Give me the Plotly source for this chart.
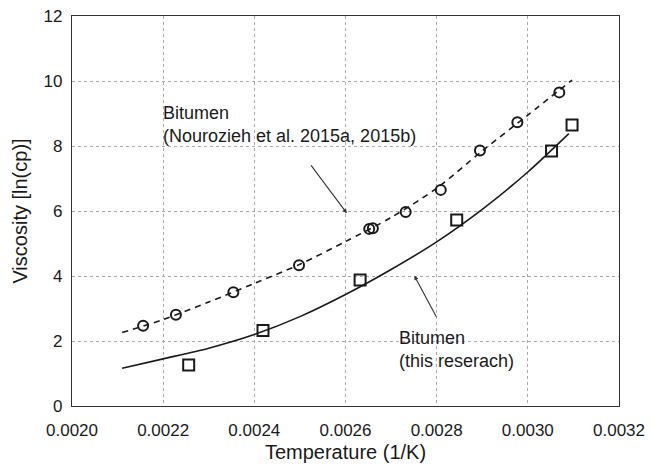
import plotly.graph_objects as go

# Measured data: Nourozieh et al. (circles)
lit_x = [0.002156, 0.002228, 0.002354, 0.002498, 0.002652, 0.002660, 0.002732, 0.002809, 0.002895, 0.002977, 0.003069]
lit_y = [2.47, 2.81, 3.50, 4.33, 5.45, 5.47, 5.97, 6.65, 7.86, 8.73, 9.65]

# Measured data: this research (squares)
res_x = [0.002256, 0.002419, 0.002632, 0.002844, 0.003052, 0.003097]
res_y = [1.26, 2.32, 3.88, 5.72, 7.85, 8.65]

# Model curve for literature data (dashed)
lit_fit_x = [0.00211, 0.0022, 0.0023, 0.0024, 0.0025, 0.0026, 0.0027, 0.0028, 0.0029, 0.0030, 0.003097]
lit_fit_y = [2.26, 2.66, 3.20, 3.77, 4.36, 5.06, 5.80, 6.70, 7.85, 8.95, 10.03]

# Model curve for this research (solid)
res_fit_x = [0.00211, 0.0022, 0.0023, 0.0024, 0.0025, 0.0026, 0.0027, 0.0028, 0.0029, 0.0030, 0.00309]
res_fit_y = [1.16, 1.45, 1.78, 2.20, 2.75, 3.43, 4.20, 5.05, 6.05, 7.20, 8.38]

x_ticks = [0.0020, 0.0022, 0.0024, 0.0026, 0.0028, 0.0030, 0.0032]
x_tick_text = ["0.0020", "0.0022", "0.0024", "0.0026", "0.0028", "0.0030", "0.0032"]
y_ticks = [0, 2, 4, 6, 8, 10, 12]

ink = "#1a1a1a"
font = "Liberation Sans, Arial, sans-serif"

fig = go.Figure()
fig.add_trace(go.Scatter(x=lit_fit_x, y=lit_fit_y, mode="lines",
                         line=dict(color=ink, width=1.6, dash="6px,5px", shape="spline", smoothing=0.8),
                         showlegend=False, hoverinfo="skip"))
fig.add_trace(go.Scatter(x=res_fit_x, y=res_fit_y, mode="lines",
                         line=dict(color=ink, width=1.6, shape="spline", smoothing=0.8),
                         showlegend=False, hoverinfo="skip"))
fig.add_trace(go.Scatter(x=lit_x, y=lit_y, mode="markers",
                         marker=dict(symbol="circle-open", size=10, color=ink, line=dict(width=2, color=ink)),
                         showlegend=False))
fig.add_trace(go.Scatter(x=res_x, y=res_y, mode="markers",
                         marker=dict(symbol="square-open", size=11, color=ink, line=dict(width=2, color=ink)),
                         showlegend=False))

fig.add_annotation(x=0.002195, y=8.66, xref="x", yref="y", text="Bitumen<br>(Nourozieh et al. 2015a, 2015b)",
                   showarrow=False, xanchor="left", yanchor="middle", align="left",
                   font=dict(size=18, color=ink, family=font))
fig.add_annotation(x=0.002603, y=5.93, ax=0.002522, ay=7.45, xref="x", yref="y", axref="x", ayref="y",
                   text="", showarrow=True, arrowhead=2, arrowsize=0.8, arrowwidth=1.1, arrowcolor="#333")
fig.add_annotation(x=0.002712, y=1.75, xref="x", yref="y", text="Bitumen<br>(this reserach)",
                   showarrow=False, xanchor="left", yanchor="middle", align="left",
                   font=dict(size=18, color=ink, family=font))
fig.add_annotation(x=0.002751, y=4.01, ax=0.002801, ay=2.70, xref="x", yref="y", axref="x", ayref="y",
                   text="", showarrow=True, arrowhead=2, arrowsize=0.8, arrowwidth=1.1, arrowcolor="#333")

fig.update_layout(
    width=653, height=468,
    margin=dict(l=72, r=34, t=16, b=62),
    paper_bgcolor="white", plot_bgcolor="white",
    font=dict(family=font, size=17, color=ink),
    xaxis=dict(range=[0.0020, 0.0032], tickvals=x_ticks, ticktext=x_tick_text,
               showgrid=True, gridcolor="#aaaaaa", griddash="3px,3px", gridwidth=1,
               showline=True, linecolor="#333", linewidth=1.2, mirror=True,
               ticks="", ticklabelstandoff=8, zeroline=False, automargin=False,
               tickfont=dict(size=17, family=font),
               title=dict(text="Temperature (1/K)", font=dict(size=20, family=font), standoff=6)),
    yaxis=dict(range=[0, 12], tickvals=y_ticks,
               showgrid=True, gridcolor="#aaaaaa", griddash="3px,3px", gridwidth=1,
               showline=True, linecolor="#333", linewidth=1.2, mirror=True,
               ticks="", ticklabelstandoff=5, zeroline=False, automargin=False,
               tickfont=dict(size=17, family=font),
               title=dict(text="Viscosity [ln(cp)]", font=dict(size=20, family=font), standoff=10)),
)

fig.write_html("out.html")
